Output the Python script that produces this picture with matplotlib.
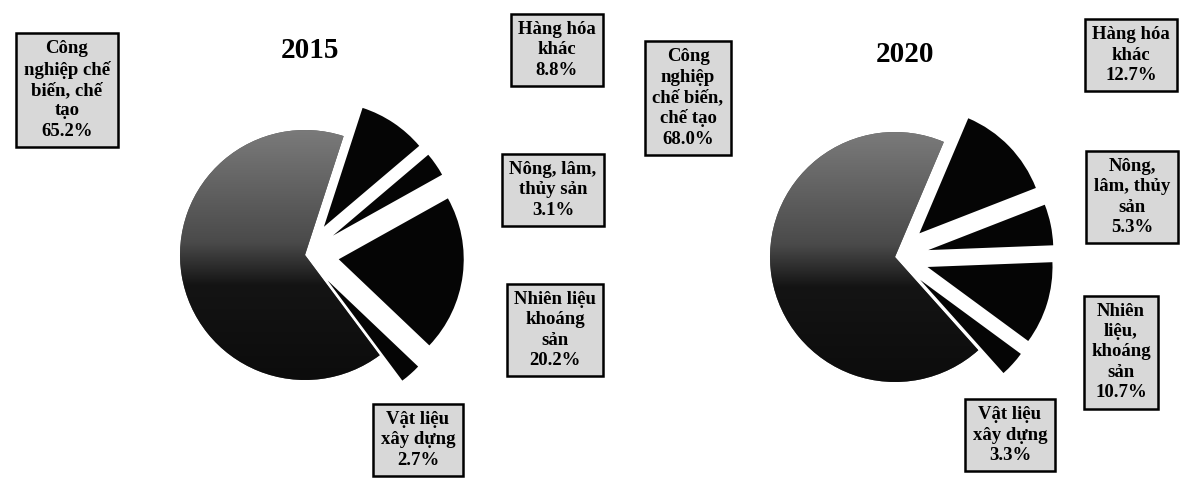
import numpy as np
import matplotlib
matplotlib.use("Agg")
import matplotlib.pyplot as plt
from matplotlib.colors import LinearSegmentedColormap

# ---- data ----
categories = ["Hàng hóa khác", "Nông, lâm, thủy sản", "Nhiên liệu, khoáng sản",
              "Vật liệu xây dựng", "Công nghiệp chế biến, chế tạo"]
values_2015 = [8.8, 3.1, 20.2, 2.7, 65.2]
values_2020 = [12.7, 5.3, 10.7, 3.3, 68.0]
years = ["2015", "2020"]

labels_2015 = ["Hàng hóa\nkhác\n8.8%", "Nông, lâm,\nthủy sản\n3.1%",
               "Nhiên liệu\nkhoáng\nsản\n20.2%", "Vật liệu\nxây dựng\n2.7%",
               "Công\nnghiệp chế\nbiến, chế\ntạo\n65.2%"]
labels_2020 = ["Hàng hóa\nkhác\n12.7%", "Nông,\nlâm, thủy\nsản\n5.3%",
               "Nhiên\nliệu,\nkhoáng\nsản\n10.7%", "Vật liệu\nxây dựng\n3.3%",
               "Công\nnghiệp\nchế biến,\nchế tạo\n68.0%"]

W, H = 1186, 482
fig = plt.figure(figsize=(W / 100, H / 100), dpi=100)
ax = fig.add_axes([0, 0, 1, 1])

def Y(y):
    return H - y

cmap = LinearSegmentedColormap.from_list(
    "g", [(0.0, "#0c0c0c"), (0.38, "#141414"), (0.55, "#4a4a4a"), (1.0, "#7a7a7a")])

font = dict(family=["Liberation Serif", "DejaVu Serif"], fontweight="bold")

def draw_pie(values, center, radius, start, explode_amt):
    explode = [explode_amt] * 4 + [0.0]
    colors = ["#050505"] * 4 + ["#555555"]
    wedges, _ = ax.pie(values, explode=explode, radius=radius, center=center,
                       startangle=start, counterclock=False, colors=colors,
                       wedgeprops=dict(linewidth=0), frame=True)
    big = wedges[-1]
    cx, cy = center
    grad = np.linspace(0, 1, 256).reshape(-1, 1)
    im = ax.imshow(grad, cmap=cmap, origin="lower", aspect="auto",
                   extent=(cx - radius, cx + radius, cy - radius, cy + radius),
                   zorder=big.get_zorder() + 0.1)
    im.set_clip_path(big)
    return wedges

draw_pie(values_2015, (305, Y(255)), 125, 72, 34)
draw_pie(values_2020, (895, Y(257)), 125, 67, 34)

ax.text(310, Y(50), years[0], ha="center", va="center", fontsize=21, **font)
ax.text(905, Y(55), years[1], ha="center", va="center", fontsize=21, **font)

box = dict(boxstyle="square,pad=0.4", facecolor="#d8d8d8", edgecolor="black", linewidth=1.8)

pos_2015 = [(557, 50), (553, 190), (555, 330), (418, 440), (67, 90)]
pos_2020 = [(1131, 55), (1132, 197), (1121, 352), (1010, 435), (688, 98)]

for lab, (x, y) in zip(labels_2015, pos_2015):
    ax.text(x, Y(y), lab, ha="center", va="center", fontsize=13.5, linespacing=1.25,
            bbox=box, **font)
for lab, (x, y) in zip(labels_2020, pos_2020):
    ax.text(x, Y(y), lab, ha="center", va="center", fontsize=13.5, linespacing=1.25,
            bbox=box, **font)

ax.set_xlim(0, W)
ax.set_ylim(0, H)
ax.set_aspect("equal")
ax.axis("off")
fig.savefig("out.png", dpi=100)
